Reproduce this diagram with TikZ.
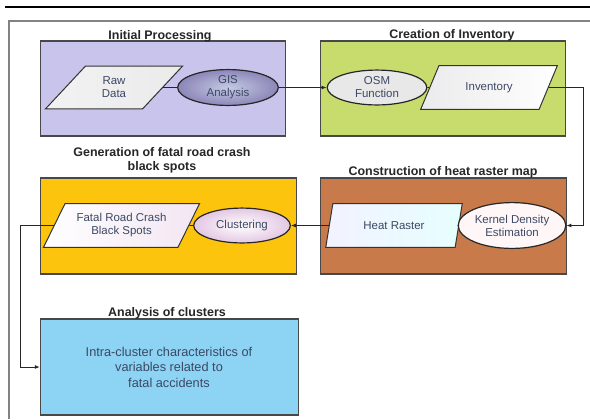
\documentclass[tikz,border=0pt]{standalone}
\usepackage{fontspec}
\setmainfont{Liberation Sans}
\usetikzlibrary{shapes.geometric,arrows.meta}

\definecolor{lavender}{RGB}{200,196,236}
\definecolor{limegreen}{RGB}{200,220,110}
\definecolor{amber}{RGB}{252,196,12}
\definecolor{clay}{RGB}{200,122,74}
\definecolor{skyblue}{RGB}{141,211,243}
\definecolor{edgegrey}{RGB}{72,72,72}
\definecolor{framegrey}{RGB}{130,130,130}
\definecolor{inktext}{RGB}{60,72,100}
\definecolor{gisdark}{RGB}{140,134,184}
\definecolor{gislight}{RGB}{196,202,228}

\tikzset{
  stagebox/.style={draw=edgegrey, line width=1.4bp, inner sep=0pt},
  stagetitle/.style={font=\fontsize{12.5}{14}\selectfont\bfseries, text=black!85,
    align=center, inner sep=0pt},
  datashape/.style={trapezium, trapezium stretches=true, draw=black!80,
    line width=1bp, inner sep=0pt, text=inktext,
    font=\fontsize{11.5}{13}\selectfont, align=center},
  process/.style={ellipse, draw=black!85, line width=1.2bp, inner sep=0pt,
    text=inktext, font=\fontsize{11.5}{13}\selectfont, align=center},
  link/.style={draw=black!85, line width=0.9bp},
  flow/.style={link, -{Latex[length=5bp,width=4bp]}}
}

\begin{document}
\begin{tikzpicture}[x=1bp,y=-1bp]
\useasboundingbox (0,0) rectangle (590,419);
\fill[white] (0,0) rectangle (590,419);

% header rule and page frame
\draw[line width=2.4bp] (5,7) -- (590,7);
\draw[framegrey, line width=1.5bp] (9,419) -- (9,21) -- (590,21);

% stage boxes
\node[stagebox, fill=lavender, minimum width=246, minimum height=95] (initial) at (163,88.5) {};
\node[stagebox, fill=limegreen, minimum width=246, minimum height=95] (creation) at (443,88.5) {};
\node[stagebox, fill=amber, minimum width=257, minimum height=96] (generation) at (168.5,226) {};
\node[stagebox, fill=clay, minimum width=247, minimum height=96] (construction) at (443.5,226) {};
\node[stagebox, fill=skyblue, minimum width=259, minimum height=96] (analysis) at (169.5,367) {};

% stage titles
\node[stagetitle] (initialT) at (160,36) {Initial Processing};
\node[stagetitle] (creationT) at (452,35) {Creation of Inventory};
\node[stagetitle, text height=9bp] (generationT) at (162,167) {Generation of fatal road crash\\black spots};
\node[stagetitle] (constructionT) at (443,172) {Construction of heat raster map};
\node[stagetitle] (analysisT) at (167,313) {Analysis of clusters};

% data items
\node[datashape, left color=black!5, right color=blue!6!black!8,
  minimum width=138, minimum height=43,
  trapezium left angle=51, trapezium right angle=129] (raw) at (114,87.5) {Raw\\Data};
\node[datashape, left color=blue!8!black!8, right color=white,
  minimum width=138, minimum height=44,
  trapezium left angle=50, trapezium right angle=130] (inventory) at (489,87.5) {Inventory};
\node[datashape, left color=blue!5!white, right color=cyan!10!white,
  minimum width=138, minimum height=44,
  trapezium left angle=66, trapezium right angle=114] (heat) at (394,225.5) {Heat Raster};
\node[datashape, left color=white, right color=violet!10!white,
  minimum width=157, minimum height=44,
  trapezium left angle=54, trapezium right angle=126] (fatal) at (121.5,225.5) {Fatal Road Crash\\Black Spots};

% processing steps
\node[process, inner color=gislight, outer color=gisdark,
  minimum width=101, minimum height=36] (gis) at (228,87.5) {GIS\\Analysis};
\node[process, fill=black!9, minimum width=100, minimum height=35] (osm) at (377,87.5) {OSM\\Function};
\node[process, fill=white!97!red, minimum width=108, minimum height=46] (kde) at (512,225.5) {Kernel Density\\Estimation};
\node[process, inner color=white, outer color=violet!22!white,
  minimum width=97, minimum height=35] (cluster) at (242,225.5) {Clustering};

% analysis text
\node[text=inktext, font=\fontsize{12.8}{15.5}\selectfont, align=center] (analysisText)
  at (169,367) {Intra-cluster characteristics of\\variables related to\\fatal accidents};

% routing columns for the loops
\coordinate (rightRail) at (583,0);
\coordinate (leftRail) at (20,0);

% connectors
\draw[link] (raw) -- (gis);
\draw[flow] (gis) -- (osm);
\draw[link] (osm) -- (inventory);
\draw[flow] (inventory.east) -- (inventory.east -| rightRail) |- (kde.east);
\draw[link] (kde) -- (heat);
\draw[flow] (heat) -- (cluster);
\draw[link] (cluster) -- (fatal);
\draw[flow] (fatal.west) -- (fatal.west -| leftRail) |- (analysis.west);
\end{tikzpicture}
\end{document}
